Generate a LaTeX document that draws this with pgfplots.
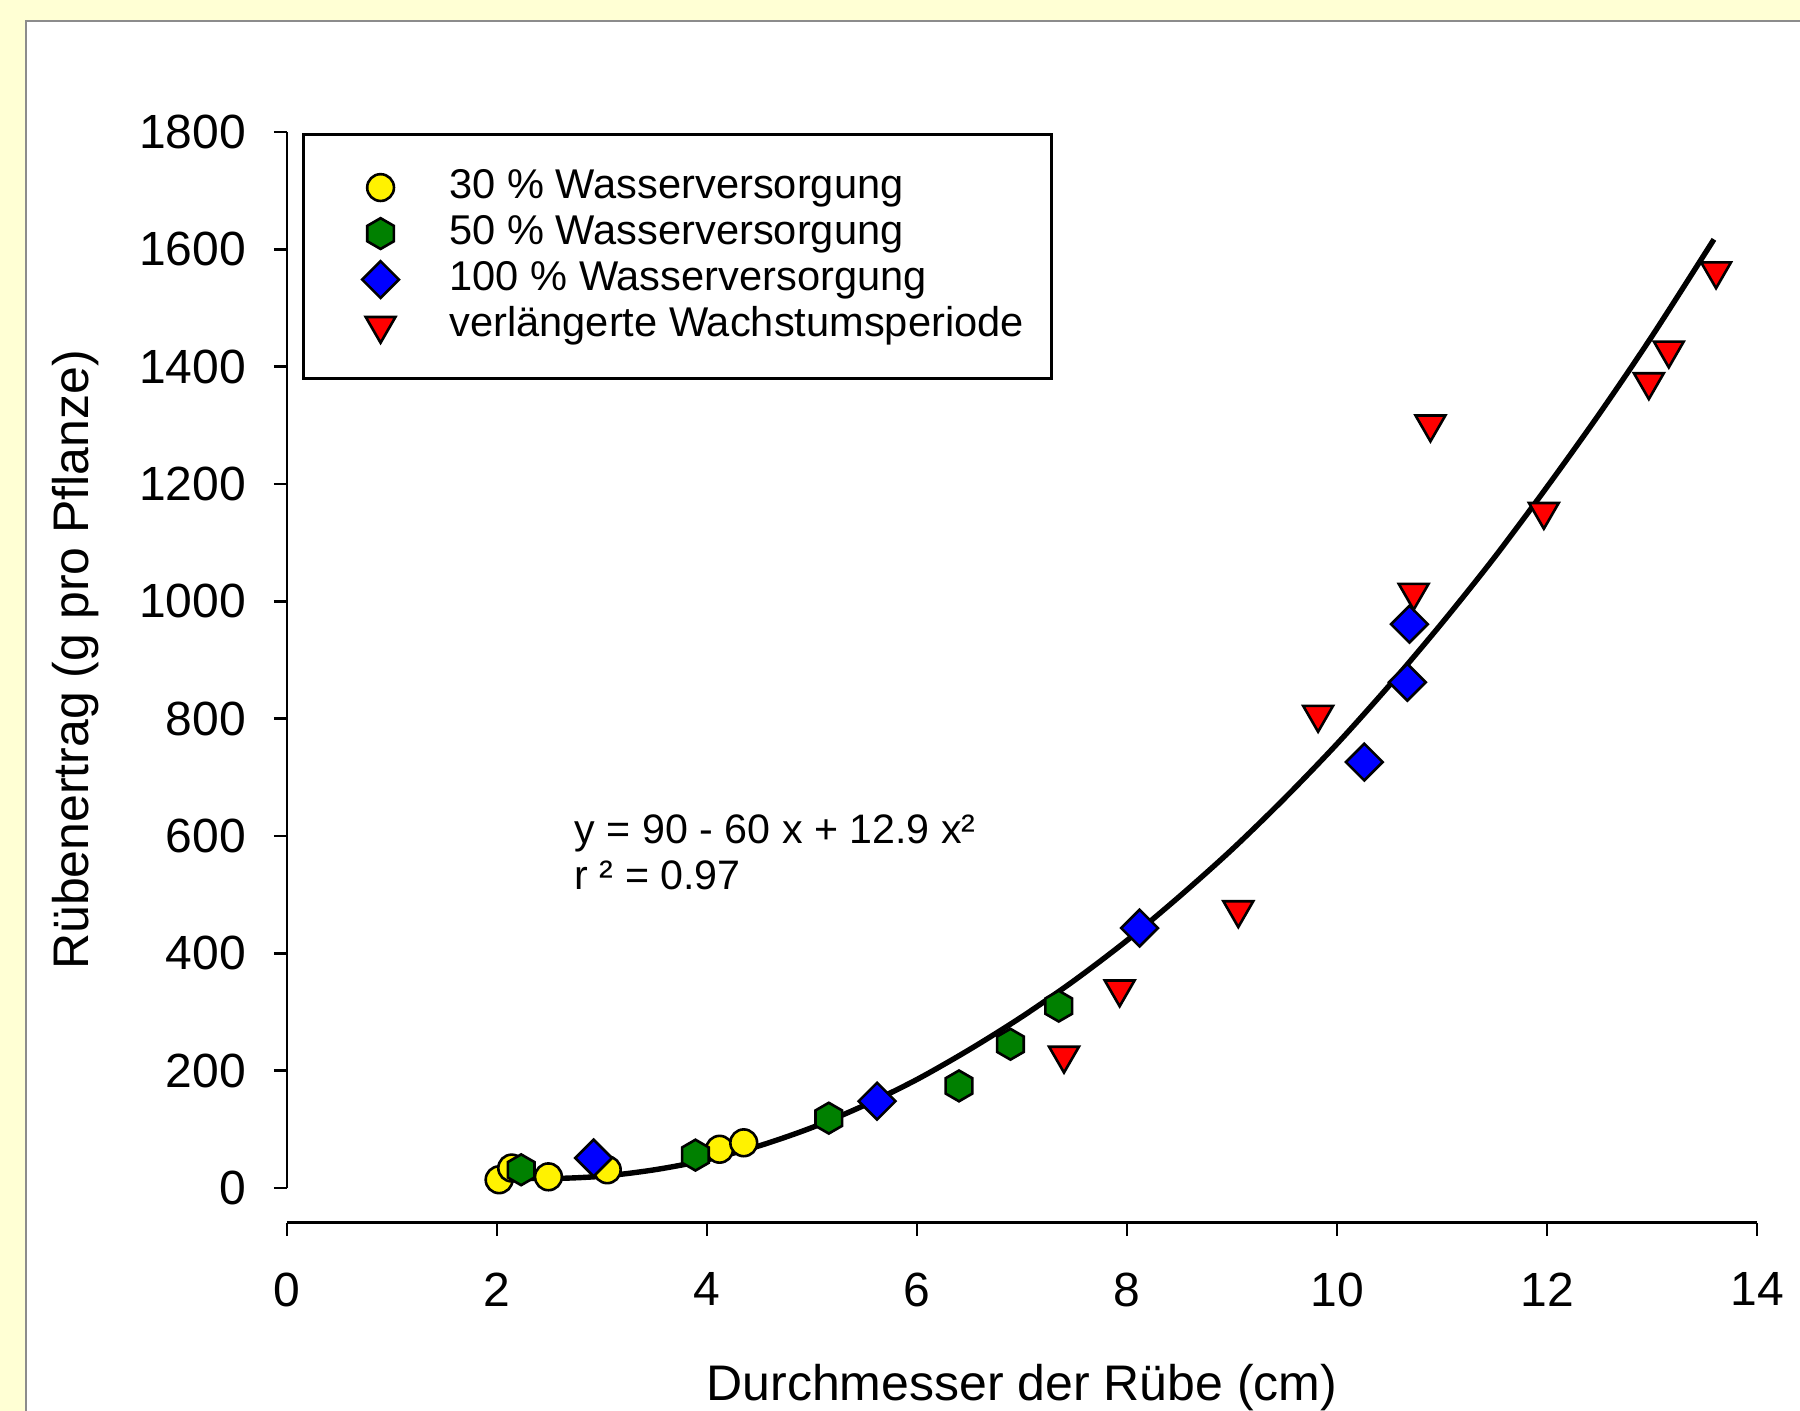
\documentclass[border=0pt]{standalone}
\usepackage{fontspec}
\setmainfont{Liberation Sans}
\usepackage{pgfplots}
\pgfplotsset{compat=1.18}
\definecolor{bgyellow}{RGB}{255,255,212}
\definecolor{mgreen}{RGB}{0,128,0}
\pgfdeclareplotmark{hexagon*}{%
  \pgfpathmoveto{\pgfqpointpolar{90}{\pgfplotmarksize}}%
  \pgfpathlineto{\pgfqpointpolar{150}{\pgfplotmarksize}}%
  \pgfpathlineto{\pgfqpointpolar{210}{\pgfplotmarksize}}%
  \pgfpathlineto{\pgfqpointpolar{270}{\pgfplotmarksize}}%
  \pgfpathlineto{\pgfqpointpolar{330}{\pgfplotmarksize}}%
  \pgfpathlineto{\pgfqpointpolar{30}{\pgfplotmarksize}}%
  \pgfpathclose
  \pgfusepathqfillstroke
}
\begin{document}
\begin{tikzpicture}
\useasboundingbox (0,0) rectangle (450pt,352.75pt);
\fill[bgyellow] (0,0) rectangle (450pt,352.75pt);
\fill[white] (6.5pt,0) rectangle (450pt,347.5pt);
\draw[black!45, line width=0.6pt] (6.5pt,0) -- (6.5pt,347.5pt) -- (450pt,347.5pt);
\begin{axis}[
  at={(71.75pt,47.1pt)}, anchor=south west,
  scale only axis, width=367.5pt, height=272.65pt,
  xmin=0, xmax=14, ymin=-59, ymax=1800,
  axis x line*=bottom, axis y line*=left,
  y axis line style={draw=none},
  x axis line style={line width=0.7pt},
  xtick={0,2,...,14}, ytick={0,200,...,1800},
  tick align=outside, major tick length=3.25pt,
  every tick/.style={black, line width=0.7pt},
  tick label style={font=\fontsize{12}{14}\selectfont},
  xticklabel style={anchor=north, inner sep=0pt, yshift=-9.1pt},
  yticklabel style={anchor=east, inner sep=0pt, xshift=-6.85pt},
  /pgf/number format/assume math mode=true,
  /pgf/number format/1000 sep={},
  scaled ticks=false,
  clip=false,
  every axis x label/.style={at={(axis description cs:0.5,-0.1627)}, anchor=base, font=\fontsize{12.5}{15}\selectfont},
  every axis y label/.style={at={(axis description cs:-0.1437,0.5159)}, anchor=center, rotate=90, font=\fontsize{12.5}{15}\selectfont},
  xlabel={Durchmesser der Rübe (cm)},
  ylabel={Rübenertrag (g pro Pflanze)},
  legend cell align=left,
  legend image code/.code={\path[draw=none,fill=none] (-12.75pt,-4.5pt) rectangle (12.75pt,4.5pt); \draw[#1] plot coordinates {(0pt,0pt)};},
  legend style={at={(axis description cs:0.0102,0.9991)}, anchor=north west,
    draw=black, line width=0.8pt, fill=white,
    inner xsep=6.5pt, inner ysep=7.5pt, column sep=4pt, row sep=0pt,
    nodes={inner sep=0.5pt, text height=8pt, text depth=2.5pt},
    font=\fontsize{10.4}{11.5}\selectfont},
]
\draw[line width=0.7pt] (axis cs:0,0) -- (axis cs:0,1800);
\addplot[only marks, mark=*, mark size=3.35pt, draw=black, fill=yellow, line width=0.65pt]
  coordinates {(2.02,14) (2.14,34) (2.49,19) (3.05,31) (4.12,66) (4.35,77)};
\addlegendentry{30 \% Wasserversorgung}
\addplot[only marks, mark=hexagon*, mark size=3.85pt, draw=black, fill=mgreen, line width=0.65pt]
  coordinates {(2.23,31) (3.89,56) (5.16,119) (6.40,174) (6.89,245) (7.35,310)};
\addlegendentry{50 \% Wasserversorgung}
\addplot[only marks, mark=square*, mark size=3.25pt, mark options={rotate=45}, draw=black, fill=blue, line width=0.65pt]
  coordinates {(2.92,51) (5.62,148) (8.12,443) (10.26,726) (10.67,862) (10.69,961)};
\addlegendentry{100 \% Wasserversorgung}
\addplot[only marks, mark=triangle*, mark size=4.3pt, mark options={rotate=180}, draw=black, fill=red, line width=0.65pt]
  coordinates {(7.40,226) (7.93,339) (9.06,474) (9.82,807) (10.73,1015) (10.89,1302) (11.97,1153) (12.97,1374) (13.16,1428) (13.61,1563)};
\addlegendentry{verlängerte Wachstumsperiode}
\addplot[forget plot, black, line width=1.35pt, smooth] coordinates {
  (2.03,18) (2.5,16) (3.0,20) (3.5,31) (4.0,48) (4.5,72) (5.0,103) (5.5,141)
  (6.0,185) (6.5,236) (7.0,292) (7.5,354) (8.0,422) (8.5,497) (9.0,577)
  (9.5,664) (10.0,757) (10.5,857) (11.0,963) (11.5,1075) (12.0,1195)
  (12.5,1320) (13.0,1452) (13.59,1617)};
\node[anchor=base west, font=\fontsize{10.3}{12}\selectfont, inner sep=0pt] at (axis cs:2.733,587) {y = 90 - 60 x + 12.9 x²};
\node[anchor=base west, font=\fontsize{10.3}{12}\selectfont, inner sep=0pt] at (axis cs:2.733,508) {r ² = 0.97};
\end{axis}
\end{tikzpicture}
\end{document}
